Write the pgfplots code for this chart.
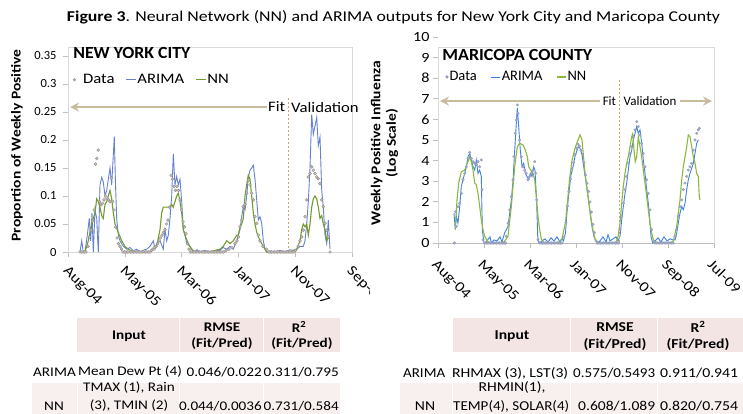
\documentclass[border=0pt]{standalone}
\usepackage{fontspec}
\setmainfont{Carlito}
\newfontfamily\wf{Carlito}[FakeStretch=1.15]
\usepackage{graphicx}
\usepackage{pgfplots}
\pgfplotsset{compat=1.18}
\usetikzlibrary{arrows.meta}
\newcommand{\fw}[2]{\resizebox{#1pt}{\height}{#2}}
\definecolor{nycblue}{RGB}{100,130,210}
\definecolor{nycgreen}{RGB}{115,155,45}
\definecolor{nycdata}{RGB}{165,157,152}
\definecolor{azblue}{RGB}{65,130,225}
\definecolor{azgreen}{RGB}{140,185,60}
\definecolor{azdata}{RGB}{145,152,185}
\definecolor{tanarrow}{RGB}{200,188,160}
\definecolor{dashcol}{RGB}{200,165,110}
\definecolor{framegray}{RGB}{217,217,217}
\definecolor{axgray}{RGB}{190,190,190}
\definecolor{pinkhead}{RGB}{242,229,227}
\definecolor{pinkrow}{RGB}{248,240,239}
\begin{document}
\begin{tikzpicture}[x=1pt,y=1pt]
\path[use as bounding box, fill=white] (0,0) rectangle (743,414);
% Title
\node at (393.5,397) {\resizebox{653pt}{\height}{\fontsize{15}{18}\selectfont\textbf{Figure 3}. Neural Network (NN) and ARIMA outputs for New York City and Maricopa County}};

% ---------------- Left chart: New York City
\begin{scope}
\clip (0,100) rectangle (369,414);
\begin{axis}[
  at={(68pt,162pt)}, anchor=south west,
  scale only axis, width=284pt, height=205pt,
  xmin=0, xmax=200, ymin=0, ymax=0.366,
  clip=false,
  x filter/.expression={(x-68)*200/284},
  axis line style={draw=framegray},
  tick pos=left, tick align=outside, major tick length=5pt,
  tick style={axgray, line width=0.6pt},
  xtick={0,40,80,120,160,200},
  xticklabels={Aug-04,May-05,Mar-06,Jan-07,Nov-07,Sep-08},
  xticklabel style={rotate=-45, anchor=north west, font=\wf\fontsize{14.5}{16}\selectfont, xshift=3pt, yshift=-1pt},
  ytick={0,0.05,0.1,0.15,0.2,0.25,0.3,0.35},
  yticklabels={0,0.05,0.1,0.15,0.2,0.25,0.3,0.35},
  yticklabel style={font=\fontsize{12.5}{15}\selectfont, xshift=-3pt},
  /pgf/number format/assume math mode=true,
  ylabel={\textbf{Proportion of Weekly Positive}},
  ylabel style={at={(axis description cs:-0.18,0.52)}, anchor=center, font=\wf\fontsize{13.5}{15}\selectfont},
  legend style={at={(rel axis cs:0.006,0.84)}, anchor=west, draw=none, fill=none,
    font=\wf\fontsize{14.5}{16}\selectfont, legend columns=-1,
    /tikz/every even column/.append style={column sep=10pt},
    nodes={inner sep=1pt}},
]
\addlegendimage{only marks, mark=*, mark size=1.4pt, draw=nycdata, fill=nycdata, legend image code/.code={\fill[nycdata] (4pt,0pt) circle (1.4pt);}}
\addlegendentry{\hspace{6pt}Data}
\addplot[nycblue, line width=0.9pt, legend image code/.code={\draw[nycblue, line width=0.9pt] (0pt,0pt) -- (10pt,0pt);}] coordinates {
(80,0)(81.7,0.02)(83.3,0)(85,0)(87.3,0.03)(89.3,0.06)(90.7,0.02)(92,0.07)(93.3,0)(95,0.075)(96.7,0.06)(98.3,0)(100,0.12)(101.7,0.133)(103.3,0.125)(105,0.1)(106.7,0.11)(108.3,0.13)(110,0.15)(111.7,0.12)(114.3,0.206)(115.5,0.12)(116.7,0.06)(118.3,0.03)(120,0.02)(123.3,0.01)(126.7,0.005)(130,0.008)(133.3,0.002)(136.7,0.005)(140,0)(143,0.003)(146.7,0.005)(150,0.01)(153.3,0.02)(155,0.005)(156.7,0.015)(160,0.02)(163.3,0.005)(165,0.04)(166.7,0.02)(168.3,0.03)(170,0.06)(171.7,0.1)(173.3,0.175)(175,0.12)(176.7,0.135)(178.3,0.12)(180,0.13)(181.7,0.09)(183.3,0.04)(185,0.03)(186.7,0.015)(190,0.01)(193.3,0)(197,0.004)(200,0)(205,0.003)(210,0)(215,0.002)(220,0.003)(223,0.008)(226.7,0.005)(230,0.01)(233.3,0.005)(236.7,0.02)(240,0.04)(241.7,0.063)(243.3,0.081)(245,0.075)(246.7,0.1)(248.3,0.134)(250,0.146)(251.7,0.15)(253.3,0.155)(255,0.13)(256.7,0.093)(258.3,0.057)(260,0.063)(261.7,0.051)(263.3,0.02)(265,0.005)(266.7,0)(270,0.002)(275,0)(280,0.003)(285,0)(290,0.004)(293.3,0.003)(296.7,0.005)(300,0.01)(303.3,0.01)(305,0.02)(306.7,0.05)(308.3,0.09)(310,0.15)(311.7,0.245)(313.3,0.21)(315,0.225)(316.7,0.24)(318.3,0.19)(320,0.205)(321.7,0.11)(323.3,0.08)(325,0.03)(326.7,0.015)(328.3,0.057)(330,0.005)
};
\addlegendentry{ARIMA}
\addplot[nycgreen, line width=1.1pt, legend image code/.code={\draw[nycgreen, line width=1.1pt] (0pt,0pt) -- (10pt,0pt);}] coordinates {
(85,0)(88.3,0.02)(91.7,0.05)(95,0.07)(96.7,0.095)(98.3,0.09)(100,0.08)(101.7,0.065)(103.3,0.06)(105,0.085)(106.7,0.09)(108.3,0.1)(110,0.11)(111.7,0.095)(113.3,0.07)(115,0.05)(118.3,0.035)(121.7,0.02)(125,0.01)(128.3,0.005)(133.3,0)(140,0)(150,0)(156.7,0.01)(160,0.04)(161.7,0.07)(163.3,0.08)(166.7,0.08)(170,0.08)(171.7,0.085)(173.3,0.08)(175,0.09)(176.7,0.1)(178.3,0.105)(180,0.09)(181.7,0.07)(183.3,0.04)(185,0.03)(188.3,0.015)(191.7,0.005)(195,0)(200,0)(210,0)(215,0.003)(220,0.005)(223.3,0.01)(226.7,0.02)(230,0.015)(233.3,0.02)(236.7,0.03)(238.3,0.03)(240,0.045)(241.7,0.05)(243.3,0.06)(245,0.1)(246.7,0.12)(248.3,0.137)(250,0.13)(251.7,0.1)(253.3,0.07)(255,0.05)(256.7,0.035)(260,0.02)(263.3,0.01)(266.7,0)(280,0)(290,0)(296.7,0.005)(300,0.02)(301.7,0.04)(303.3,0.05)(305,0.045)(306.7,0.05)(308.3,0.03)(310,0.05)(311.7,0.08)(313.3,0.095)(315,0.1)(316.7,0.095)(318.3,0.08)(320,0.06)(321.7,0.065)(323.3,0.05)(325,0.04)(326.7,0.02)(328.3,0.025)
};
\addlegendentry{NN}
\addplot[only marks, mark=*, mark size=1.5pt, draw=nycdata!85!black, fill=nycdata!65!white, line width=0.3pt, forget plot] coordinates {
(80,0)(81.5,0)(83,0)(84.5,0)(86,0)(88,0.01)(89.5,0.027)(91,0.039)(92.5,0.055)(94,0.075)(95.5,0.157)(96.8,0.167)(98.2,0.182)(99.5,0.09)(101,0.084)(102.5,0.087)(104,0.093)(105.5,0.1)(107,0.095)(108.5,0.093)(110,0.09)(111.3,0.132)(112.7,0.09)(114,0.075)(115.5,0.045)(117,0.025)(118.5,0.015)(120,0.01)(121.5,0.005)
(123,0)(124.5,0)(126,0)(127.5,0)(129,0)(130.5,0)(132,0)(133.5,0)(135,0)(136.5,0)(138,0)(139.5,0)(141,0)(142.5,0)(144,0)(145.5,0)(147,0)(148.5,0)(150,0)
(151.5,0.003)(153,0.005)(154.5,0.008)(156,0.01)(157.5,0.015)(159,0.02)(160.5,0.025)(162,0.03)(163.5,0.035)(165,0.04)(166.5,0.05)(168,0.057)(169.5,0.08)(171,0.137)(172.5,0.13)(174,0.117)(175.5,0.11)(177,0.117)(178.5,0.11)(180,0.093)(181.5,0.075)(183,0.054)(184.5,0.045)(186,0.033)(187.5,0.015)(189,0.005)
(190.5,0)(192,0)(193.5,0)(195,0)(196.5,0)(198,0)(199.5,0)(201,0)(202.5,0)(204,0)(205.5,0)(207,0)(208.5,0)(210,0)(211.5,0)(213,0)(214.5,0)(216,0)(217.5,0)(219,0)(220.5,0)(222,0)(223.5,0)
(226,0.003)(229,0.005)(232,0.008)(235,0.015)(237,0.02)(238.5,0.027)(240,0.045)(241.7,0.057)(243.3,0.081)(245,0.085)(246.7,0.105)(248.3,0.128)(250,0.12)(251.7,0.105)(253.3,0.093)(255,0.063)(256.7,0.051)(258.3,0.03)(260,0.02)(263,0.01)(266.7,0.005)
(268.5,0)(270,0)(271.5,0)(273,0)(274.5,0)(276,0)(277.5,0)(279,0)(280.5,0)(282,0)(283.5,0)(285,0)(286.5,0)(288,0)(289.5,0)(291,0)(292.5,0)(294,0)
(295.5,0.003)(298.3,0.01)(300,0.02)(301.7,0.027)(303.3,0.039)(305,0.063)(306.7,0.093)(308.3,0.134)(310,0.14)(311.7,0.152)(313.3,0.146)(315,0.14)(316.7,0.134)(318.3,0.131)(320,0.122)(321.7,0.093)(323.3,0.081)(325,0.051)(326.7,0.039)(328.3,0.027)(330,0)
};
% annotations
\node[anchor=west, inner sep=0pt] at (rel axis cs:0.018,0.971) {\resizebox{117pt}{\height}{\fontsize{17}{19}\selectfont\bfseries NEW YORK CITY}};
\draw[tanarrow, line width=2.2pt, {Stealth[length=9pt,width=9pt]}-] (rel axis cs:0.007,0.707) -- (rel axis cs:0.70,0.707);
\node[font=\wf\fontsize{14.5}{16}\selectfont, inner sep=0pt] at (rel axis cs:0.735,0.707) {Fit};
\draw[dashcol, line width=1.1pt, dash pattern=on 2pt off 2pt] (rel axis cs:0.775,0.751) -- (rel axis cs:0.775,0);
\node[anchor=west, font=\wf\fontsize{14.5}{16}\selectfont, inner sep=0pt] at (rel axis cs:0.785,0.707) {Validation};
\end{axis}
\end{scope}

% ---------------- Right chart: Maricopa County
\begin{axis}[
  at={(438pt,171pt)}, anchor=south west,
  scale only axis, width=276pt, height=206pt,
  xmin=0, xmax=240, ymin=0, ymax=10,
  clip=false,
  x filter/.expression={(x-438)*240/276},
  axis line style={draw=none},
  tick pos=left, tick align=outside, major tick length=5pt,
  tick style={axgray, line width=0.6pt},
  xtick={0,40,80,120,160,200,240},
  xticklabels={Aug-04,May-05,Mar-06,Jan-07,Nov-07,Sep-08,Jul-09},
  xticklabel style={rotate=-45, anchor=north west, font=\wf\fontsize{14.5}{16}\selectfont, xshift=4pt, yshift=-4pt},
  ytick={0,1,...,10},
  yticklabel style={font=\wf\fontsize{14}{15}\selectfont},
  /pgf/number format/assume math mode=true,
  ylabel={\textbf{Weekly Positive Influenza}\\\textbf{(Log Scale)}},
  ylabel style={at={(axis description cs:-0.194,0.485)}, anchor=center, align=center, font=\wf\fontsize{13.5}{15.5}\selectfont},
  legend style={at={(rel axis cs:0.015,0.806)}, anchor=west, draw=none, fill=none,
    font=\fontsize{14.5}{16}\selectfont, legend columns=-1,
    /tikz/every even column/.append style={column sep=13pt},
    nodes={inner sep=1pt}},
]
\draw[framegray, line width=0.8pt] (rel axis cs:0,0) rectangle (rel axis cs:1,0.95);
\draw[axgray, line width=0.8pt] (rel axis cs:0,0) -- (rel axis cs:1,0);
\addlegendimage{only marks, mark=*, legend image code/.code={\fill[azdata] (4pt,0pt) circle (1.4pt);}}
\addlegendentry{Data}
\addplot[azblue, line width=0.9pt, legend image code/.code={\draw[azblue, line width=0.9pt] (0pt,0pt) -- (9pt,0pt);}] coordinates {
(454,1.45)(455.3,0.65)(456.3,1.29)(458,0.97)(459.7,1.77)(461.3,2.75)(463,3.07)(464.7,3.38)(466.3,3.7)(468,4.19)(469.7,4.35)(471.3,4.03)(473,3.7)(474.7,3.54)(476.3,4.03)(478,3.38)(479.7,3.54)(481.3,3.23)(482.3,0.65)(484,0)
(486,0.05)(490,0.3)(491.5,0)(494,0.15)(497,0.1)(500,0.3)(502,0.05)(504.7,0.5)
(508,0.8)(511.3,2.09)(513,3.0)(514.7,4.5)(516.3,5.8)(517.3,6.54)(518.7,5.65)(520.3,4.51)(522,3.7)(523.7,3.87)(525.3,3.38)(527,3.23)(528.7,3.07)(530.3,3.38)(532,3.23)(533.7,3.7)(535,3.54)(536.7,1.93)(537.7,0.32)(539,0)
(542,0.1)(545,0.2)(548,0.05)(551,0.25)(554,0.1)(557,0.3)(560,0.05)(562,0.2)
(563.5,0.1)(565.5,0.5)(567,1.5)(569,2.5)(571,3.3)(573,3.7)(575,4.2)(577,4.5)(578.5,4.7)(580,4.6)(582,4.3)(584,3.6)(586,3.0)(588,2.3)(590,1.5)(592,0.8)(594,0.3)(596,0.1)(597,0)
(600,0.1)(603,0.3)(606,0.05)(608,0.4)(610,0.1)(613,0.2)(616,0.3)(618,0.1)
(620,0.32)(621.7,1.13)(623.3,1.77)(625,2.41)(626.7,2.91)(628.3,3.54)(630,4.19)(631.7,4.51)(633.3,5.0)(635,5.32)(636.7,5.65)(638.3,5.32)(640,5.49)(641.7,4.84)(643.3,4.03)(645,3.38)(646.7,2.59)(648.3,1.93)(650,0.97)(651,0.32)(652.7,0)
(655,0.1)(658,0.25)(661,0.05)(664,0.3)(667,0.1)(670,0.2)(673,0.15)
(675,0.15)(676.7,0.48)(678.3,0.97)(680,1.45)(681.7,1.77)(683.3,1.61)(685,1.93)(686.7,2.59)(688.3,3.07)(690,3.38)(691.7,3.62)(693.3,3.87)(695,4.35)(696.7,4.84)(698.3,5.0)
};
\addlegendentry{ARIMA}
\addplot[azgreen, line width=1.1pt, legend image code/.code={\draw[azgreen, line width=1.1pt] (0pt,0pt) -- (9pt,0pt);}] coordinates {
(455.3,0.65)(457,2.09)(458.7,2.91)(461.3,3.46)(464.7,3.54)(468,3.95)(469.7,4.19)(471.3,3.95)(473,3.54)(474.7,2.91)(476.3,2.83)(478,2.41)(479.7,1.77)(481.3,1.13)(483,0.65)(484.7,0.32)(487.3,0.1)(489.7,0)
(500,0)(504,0.05)
(508,0.32)(511.3,1.77)(513,2.75)(514.7,3.7)(517.3,4.67)(519.7,4.84)(523,4.76)(525.3,4.51)(527.3,4.19)(528.7,3.7)(530.7,3.54)(533,3.38)(534.7,3.07)(536.3,2.25)(538,1.29)(539.7,0.65)(541.3,0.2)(544,0)
(558,0)(560,0.1)
(562,0.2)(565.5,1.0)(567.5,2.0)(569.5,3.1)(572,4.0)(575,4.6)(578,5.0)(580,5.25)(582,5.0)(583.5,4.2)(585,3.4)(587,2.6)(589,1.9)(591,1.2)(593,0.6)(595,0.2)(598,0)
(616,0)
(618,0.3)(620,0.97)(621.7,1.93)(623.3,2.75)(625,3.38)(626.7,3.87)(628.3,4.19)(630,4.67)(631.7,5.16)(632.7,5.3)(634,4.51)(635.3,3.95)(636.7,4.19)(638.3,5.16)(640,4.67)(641.7,4.19)(643.3,3.54)(645,2.91)(646.7,2.25)(648.3,1.61)(650,0.97)(651.7,0.48)(653.3,0.16)(656.7,0)
(670,0)
(673.3,0.1)(676.7,0.8)(678.3,1.45)(680,2.09)(681.7,3.07)(683.3,3.7)(685,4.19)(686.7,4.67)(688.3,5.24)(690,5.16)(691.7,4.67)(693.3,4.19)(695,3.87)(696.7,3.38)(698.3,3.23)(699.3,2.25)(700,2.09)
};
\addlegendentry{NN}
\addplot[only marks, mark=*, mark size=1.3pt, draw=azdata, fill=azdata!80!white, line width=0.3pt, forget plot] coordinates {
(454.5,0)(455.5,1.52)(456.3,0.8)(458,1.77)(459.7,1.93)(461.3,2.41)(463,3.07)(464.7,3.38)(466.3,3.7)(468,4.11)(469.7,4.4)(471.3,4.1)(473,3.95)(474.7,3.87)(476.3,3.8)(478,3.95)(479.7,3.7)(481.3,4.03)(482,2.59)(483,0.15)(484.7,0)
(486,0)(487.5,0)(489,0)(490.5,0)(492,0)(493.5,0)(495,0)(496.5,0)(498,0)(499.5,0)(501,0)(502.5,0)(504,0)(505.5,0)
(506.3,0.32)(508,0.97)(509.7,1.61)(511.3,2.25)(513,3.07)(514,4.19)(515.3,5.32)(516.3,5.97)(517.3,6.7)(518,6.29)(519.7,5.0)(521.3,4.19)(523,3.7)(524.7,3.54)(526.3,3.38)(528,3.07)(529.7,3.23)(531.3,3.38)(533,3.54)(534.7,3.95)(535.7,3.38)(536.7,2.09)(538,0.15)(539.7,0)
(541,0)(542.5,0)(544,0)(545.5,0)(547,0)(548.5,0)(550,0)(551.5,0)(553,0)(554.5,0)(556,0)(557.5,0)(559,0)(560.5,0)(562,0)
(564,0.3)(566,1.0)(567.5,1.8)(569,2.5)(570.5,3.1)(572,3.6)(573.5,3.9)(575,4.3)(576.5,4.6)(578,4.8)(579.5,4.7)(581,4.5)(582.5,4.3)(584,3.9)(585.5,3.3)(587,2.9)(588.5,2.5)(590,2.0)(591.5,1.5)(593,0.9)(594.5,0.5)(596,0.1)(597.5,0)
(599,0)(600.5,0)(602,0)(603.5,0)(605,0)(606.5,0)(608,0)(609.5,0)(611,0)(612.5,0)(614,0)(615.5,0)(617,0)(618.5,0)
(620,0.65)(621.7,1.29)(623.3,1.93)(625,2.59)(626.7,3.23)(628.3,3.87)(630,4.35)(631.7,4.67)(633.3,5.16)(635,5.49)(636.7,5.89)(638.3,5.65)(640,5.24)(641.7,4.84)(643.3,4.35)(645,3.7)(646.7,3.07)(648.3,2.41)(650,1.61)(651.7,0.65)(653.3,0.1)
(655,0)(656.5,0)(658,0)(659.5,0)(661,0)(662.5,0)(664,0)(665.5,0)(667,0)(668.5,0)(670,0)(671.5,0)(673,0)
(675,0.32)(676.7,0.65)(678.3,1.29)(680,1.77)(681.7,2.09)(683.3,2.59)(685,2.91)(686.7,3.23)(688.3,3.54)(690,3.7)(691.7,3.87)(693.3,4.51)(695,5.0)(696.7,5.32)(698.3,5.49)(699.3,5.57)
};
\node[anchor=west, inner sep=0pt] at (rel axis cs:0.015,0.915) {\resizebox{150pt}{\height}{\fontsize{17}{19}\selectfont\bfseries MARICOPA COUNTY}};
\draw[tanarrow, line width=2.2pt, {Stealth[length=9pt,width=9pt]}-] (rel axis cs:0.007,0.689) -- (rel axis cs:0.587,0.689);
\node[font=\fontsize{13}{15}\selectfont, inner sep=0pt] at (rel axis cs:0.621,0.689) {Fit};
\draw[dashcol, line width=1.1pt, dash pattern=on 2pt off 2pt] (rel axis cs:0.656,0.79) -- (rel axis cs:0.656,0);
\node[anchor=west, font=\fontsize{13}{15}\selectfont, inner sep=0pt] at (rel axis cs:0.672,0.689) {Validation};
\draw[tanarrow, line width=2.2pt, -{Stealth[length=9pt,width=9pt]}] (rel axis cs:0.877,0.689) -- (rel axis cs:0.993,0.689);
\end{axis}

% ---------------- Left table
\begin{scope}[every node/.style={font=\wf\fontsize{13.2}{15}\selectfont, inner sep=0pt}]
\fill[pinkhead] (77,62) rectangle (179,96);
\fill[pinkhead] (180,62) rectangle (263,96);
\fill[pinkhead] (264,62) rectangle (340,96);
\fill[pinkrow] (32,0) rectangle (76.5,31);
\fill[pinkrow] (77.5,0) rectangle (179,31);
\fill[pinkrow] (180,0) rectangle (263,31);
\fill[pinkrow] (264,0) rectangle (340,31);
\node[font=\wf\fontsize{13.2}{15}\selectfont\bfseries] at (129,78) {Input};
\node[font=\wf\fontsize{13.2}{15}\selectfont\bfseries] at (222,87) {RMSE};
\node[font=\wf\fontsize{13.2}{15}\selectfont\bfseries] at (222,70) {(Fit/Pred)};
\node[font=\wf\fontsize{13.2}{15}\selectfont\bfseries] at (299,87) {R\textsuperscript{2}};
\node[font=\wf\fontsize{13.2}{15}\selectfont\bfseries] at (302,70) {(Fit/Pred)};
\node[anchor=west] at (33,42) {ARIMA};
\node[anchor=west] at (78,42) {Mean Dew Pt (4)};
\node[anchor=east] at (262,42) {0.046/0.022};
\node[anchor=east] at (339,42) {0.311/0.795};
\node at (54,8) {NN};
\node at (129,26) {TMAX (1), Rain};
\node at (129,8) {(3), TMIN (2)};
\node[anchor=east] at (262,8) {0.044/0.0036};
\node[anchor=east] at (339,8) {0.731/0.584};
\end{scope}
% ---------------- Right table
\begin{scope}[every node/.style={font=\wf\fontsize{13.6}{15}\selectfont, inner sep=0pt}]
\fill[pinkhead] (453,62) rectangle (569.5,96);
\fill[pinkhead] (570.5,62) rectangle (656.5,96);
\fill[pinkhead] (657.5,62) rectangle (743,96);
\fill[pinkrow] (400,0) rectangle (452,31);
\fill[pinkrow] (453,0) rectangle (569.5,31);
\fill[pinkrow] (570.5,0) rectangle (656.5,31);
\fill[pinkrow] (657.5,0) rectangle (743,31);
\node[font=\wf\fontsize{13.6}{15}\selectfont\bfseries] at (512,78) {Input};
\node[font=\wf\fontsize{13.6}{15}\selectfont\bfseries] at (615,87) {RMSE};
\node[font=\wf\fontsize{13.6}{15}\selectfont\bfseries] at (615,70) {(Fit/Pred)};
\node[font=\wf\fontsize{13.6}{15}\selectfont\bfseries] at (698,87) {R\textsuperscript{2}};
\node[font=\wf\fontsize{13.6}{15}\selectfont\bfseries] at (698,70) {(Fit/Pred)};
\node[anchor=west] at (403,41) {\fw{42}{ARIMA}};
\node[anchor=west] at (452,41) {\fw{116}{RHMAX (3), LST(3)}};
\node[anchor=west] at (573,41) {\fw{82}{0.575/0.5493}};
\node[anchor=west] at (660,41) {\fw{78}{0.911/0.941}};
\node at (512,27) {RHMIN(1),};
\node[anchor=west] at (453,8) {\fw{116}{TEMP(4), SOLAR(4)}};
\node at (425,8) {NN};
\node[anchor=west] at (578,8) {\fw{77}{0.608/1.089}};
\node[anchor=west] at (660,8) {\fw{78}{0.820/0.754}};
\end{scope}
\end{tikzpicture}
\end{document}
